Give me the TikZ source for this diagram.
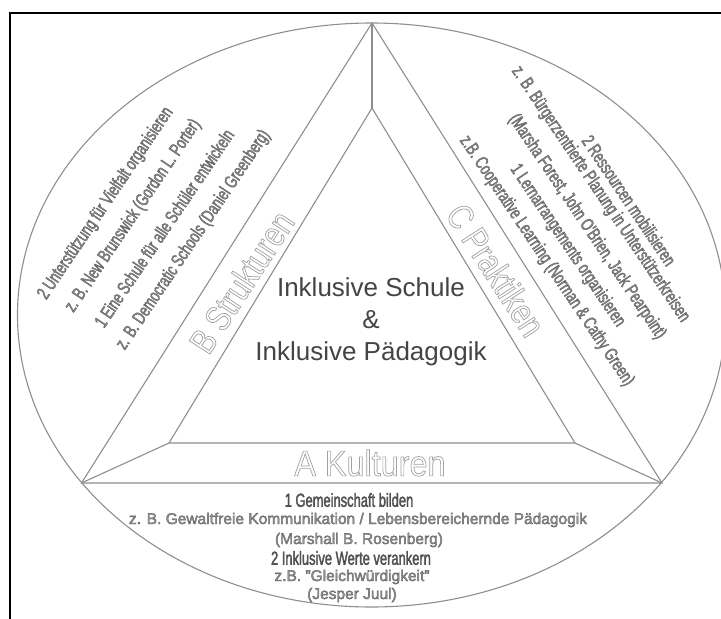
\documentclass[tikz,border=0pt]{standalone}
\usepackage{fontspec}
\setmainfont{Liberation Sans}
\newfontfamily\condf[FakeStretch=0.7]{Liberation Sans}
\newfontfamily\condbf[FakeStretch=0.68]{Liberation Sans}
\newfontfamily\bigcf[FakeStretch=0.8]{Liberation Sans}
\newfontfamily\bigaf[FakeStretch=0.9]{Liberation Sans}
\newcommand{\hollowtext}[1]{\special{pdf:literal direct 1 Tr 0.7 w}#1\special{pdf:literal direct 0 Tr}}
\newcommand{\embtext}[1]{\special{pdf:literal direct 2 Tr 0.35 w 0.36 G}#1\special{pdf:literal direct 0 Tr}}
\newcommand{\embdark}[1]{\special{pdf:literal direct 2 Tr 0.3 w 0.25 G}#1\special{pdf:literal direct 0 Tr}}
\definecolor{linegray}{HTML}{8E8E8E}
\definecolor{txtgray}{HTML}{8C8C8C}
\definecolor{darkgray}{HTML}{5A5A5A}
\definecolor{midgray}{HTML}{939393}
\definecolor{outlgray}{HTML}{A0A0A0}
\definecolor{centergray}{HTML}{444444}
\begin{document}
\begin{tikzpicture}[x=1pt,y=-1pt,
  ln/.style={draw=linegray, line width=1.1pt, line join=miter},
  sidetxt/.style={inner sep=0pt, text=txtgray, font=\condf\fontsize{18.5}{18.5}\selectfont},
  bottxtc/.style={inner sep=0pt, text=darkgray, font=\condbf\fontsize{19}{19}\selectfont},
  bottxt/.style={inner sep=0pt, text=midgray, font=\fontsize{15.5}{15.5}\selectfont},
  bigtxt/.style={inner sep=0pt, text=outlgray, font=\bigcf\fontsize{36}{36}\selectfont},
  centertxt/.style={inner sep=0pt, text=centergray, align=center, font=\fontsize{26}{32}\selectfont}]
\useasboundingbox (0,0) rectangle (721,619);
\begin{scope}
\clip (0,0) rectangle (721,619);
% frame
\draw[line width=2.2pt, black] (10,619) -- (10,13) -- (721,13);
% ellipse
\draw[ln] (371.5,315) ellipse [x radius=354, y radius=292];
\end{scope}
% triangles
\coordinate (A) at (372,23);
\coordinate (BL) at (81.5,483);
\coordinate (BR) at (662,483);
\coordinate (a) at (372,108);
\coordinate (bl) at (169,443);
\coordinate (br) at (575,443);
\draw[ln] (A) -- (BL) -- (BR) -- cycle;
\draw[ln] (a) -- (bl) -- (br) -- cycle;
\draw[ln] (A) -- (a);
\draw[ln] (BL) -- (bl);
\draw[ln] (BR) -- (br);
% center text
\node[centertxt] (center) at (371,322) {Inklusive Schule\\\&\\Inklusive Pädagogik};
% left texts
\node[sidetxt, rotate=56] (l1) at (105.8,203.4) {\embtext{2 Unterstützung für Vielfalt organisieren}};
\node[sidetxt, rotate=56] (l2) at (133.2,215.8) {\embtext{z. B. New Brunswick (Gordon L. Porter)}};
\node[sidetxt, rotate=56] (l3) at (164,228) {\embtext{1 Eine Schule für alle Schüler entwickeln}};
\node[sidetxt, rotate=56] (l4) at (193.5,240) {\embtext{z. B. Democratic Schools (Daniel Greenberg)}};
\node[bigtxt, rotate=57] (B) at (241.5,282) {\hollowtext{B Strukturen}};
% right texts
\node[sidetxt, rotate=-56] (r1) at (629.2,200.4) {\embtext{2 Ressourcen mobilisieren}};
\node[sidetxt, rotate=-56] (r2) at (600.5,194.3) {\embtext{z. B. Bürgerzentrierte Planung in Unterstützerkreisen}};
\node[sidetxt, rotate=-56] (r3) at (587,226.7) {\embtext{(Marsha Forest, John O'Brien, Jack Pearpoint)}};
\node[sidetxt, rotate=-56] (r4) at (567.5,245.7) {\embtext{1 Lernarrangements organisieren}};
\node[sidetxt, rotate=-56] (r5) at (546.5,261) {\embtext{z.B. Cooperative Learning (Norman \& Cathy Green)}};
\node[bigtxt, rotate=-57] (C) at (496,270) {\hollowtext{C Praktiken}};
% bottom texts
\node[bigtxt, font=\bigaf\fontsize{36}{36}\selectfont] (K) at (370,463) {\hollowtext{A Kulturen}};
\node[bottxtc] (b1) at (349,500) {\embdark{1 Gemeinschaft bilden}};
\node[bottxt] (b2) at (358,520) {\embtext{z. B. Gewaltfreie Kommunikation / Lebensbereichernde Pädagogik}};
\node[bottxt] (b3) at (359,540) {\embtext{(Marshall B. Rosenberg)}};
\node[bottxtc] (b4) at (351,558) {\embdark{2 Inklusive Werte verankern}};
\node[bottxt] (b5) at (352,577) {\embtext{z.B. "Gleichwürdigkeit"}};
\node[bottxt] (b6) at (352,595) {\embtext{(Jesper Juul)}};
\end{tikzpicture}
\end{document}
